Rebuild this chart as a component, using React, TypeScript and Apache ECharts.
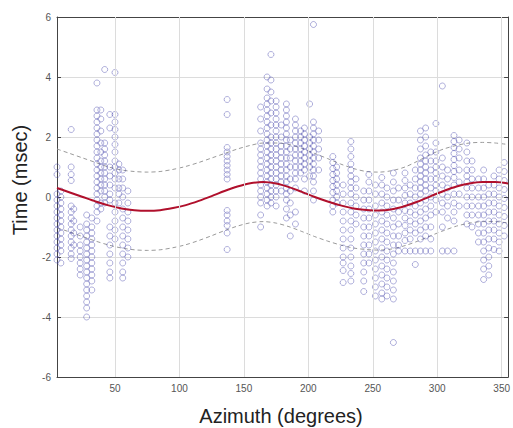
import React, { useEffect, useRef } from "react";
import * as echarts from "echarts";

// Tick labels
const xTicks = [50, 100, 150, 200, 250, 300, 350];
const yMin = -6;
const yMax = 6;

// Observations: [azimuth (deg), times (msec)] per azimuth column
const westColumns: [number, number[]][] = [
  [5, [1.0, 0.75, 0.1, -0.1, -0.3, -0.5, -0.7, -0.9, -1.1, -1.3, -1.5, -1.7, -1.9, -2.1]],
  [8, [0.2, 0.0, -0.2, -0.4, -0.6, -0.8, -1.0, -1.2, -1.4, -1.6, -1.8, -2.2]],
  [16, [2.25, 1.0, 0.75, 0.55, -0.3, -0.5, -0.7, -0.9, -1.1, -1.3, -1.5, -1.7, -1.9, -2.05]],
  [18, [-0.4, -0.8, -1.2, -1.6]],
  [23, [-1.0, -1.3, -1.6, -1.8, -2.0, -2.2, -2.4, -2.6]],
  [28, [-0.6, -0.9, -1.1, -1.3, -1.5, -1.7, -1.9, -2.1, -2.3, -2.5, -2.7, -2.9, -3.1, -3.3, -3.5, -3.7, -4.0]],
  [32, [-0.7, -1.0, -1.2, -1.4, -1.6, -1.8, -2.0, -2.2, -2.4, -2.6, -2.8, -3.1]],
  [36, [3.8, 2.9, 2.7, 2.5, 2.3, 2.1, 1.9, 1.7, 1.5, 1.3, 1.1, 0.9, 0.7, 0.5, 0.3, 0.1, -0.1, -0.3, -0.5, -0.8]],
  [39, [2.9, 2.6, 2.2, 1.8, 1.5, 1.2, 1.0, 0.8, 0.6, 0.4, 0.2, -0.2, -0.4]],
  [42, [4.25, 1.8, 1.6, 1.4, 1.2, 1.0, 0.8, 0.6, 0.4, 0.2, 0.0, -0.2]],
  [46, [2.75, 2.3, 1.0, 0.7, 0.4, 0.1, -0.1, -1.0, -1.3, -1.6, -1.9, -2.2, -2.5, -2.7]],
  [50, [4.15, 2.75, 2.5, 2.25, 2.0, 1.75, 1.5, 1.2, 1.0, 0.8, 0.6, 0.3, -0.2, -0.5, -0.8, -1.1, -1.4]],
  [53, [1.1, 0.9, 0.6, 0.3, 0.1, -0.2]],
  [56, [0.9, 0.6, 0.3, 0.0, -0.4, -0.7, -1.0, -1.3, -1.6, -1.9, -2.2, -2.5, -2.7]],
  [60, [0.2, -0.2, -0.5, -0.8, -1.1, -1.4, -1.7, -2.0]],
];

const midColumns: [number, number[]][] = [
  [137, [3.25, 2.75, 1.65, 1.5, 1.35, 1.2, 1.05, 0.9, 0.75, 0.6, -0.45, -0.6, -0.8, -0.95, -1.2, -1.75]],
  [163, [3.0, 2.6, 2.2, 1.8, 1.6, 1.4, 1.2, 1.0, 0.8, 0.6, 0.4, 0.2, 0.0, -0.2, -0.6, -1.0]],
  [168, [4.0, 3.6, 3.3, 3.1, 2.9, 2.7, 2.5, 2.3, 2.1, 1.9, 1.7, 1.5, 1.3, 1.1, 0.9, 0.7, 0.5, 0.3, 0.1, -0.1, -0.3]],
  [171, [4.75, 3.9, 3.5, 3.2, 2.8, 2.4, 2.0, 1.8, 1.6, 1.4, 1.2, 1.0, 0.8, 0.6, 0.4, 0.2, 0.0, -0.2]],
  [175, [3.2, 3.0, 2.8, 2.6, 2.4, 2.2, 2.0, 1.8, 1.6, 1.4, 1.2, 1.0, 0.8, 0.6, 0.4, 0.2, 0.0, -0.3]],
  [179, [2.4, 2.0, 1.7, 1.5, 1.3, 1.1, 0.9, 0.7, 0.5, 0.2]],
  [183, [3.1, 2.9, 2.7, 2.5, 2.3, 2.1, 1.9, 1.7, 1.5, 1.3, 1.1, 0.9, 0.7, 0.5, 0.3, 0.1, -0.1, -0.4, -0.7]],
  [186, [1.9, 1.6, 1.3, 1.0, 0.6, 0.2, -0.2, -0.6, -1.3]],
  [190, [2.6, 2.4, 2.2, 2.0, 1.8, 1.6, 1.4, 1.2, 1.0, 0.8, 0.6, 0.3, -0.5, -0.9]],
  [194, [2.2, 2.0, 1.8, 1.6, 1.4, 1.2, 1.0, 0.8]],
  [197, [2.3, 2.1, 1.9, 1.7, 1.5, 1.3, 1.1, 0.9, 0.6, 0.2]],
  [201, [3.1, 2.0, 1.8, 1.6, 1.4, 1.2, 1.0, 0.7]],
  [204, [5.75, 2.5, 2.3, 2.1, 1.9, 1.7, 1.5, 1.3, 1.1, 0.9, 0.7, 0.5, 0.2, -0.1]],
  [208, [2.2, 1.9, 1.6, 1.3, 0.9]],
  [219, [1.35, 1.15, 0.95, 0.75, 0.55, 0.35, 0.15, -0.1, -0.3, -0.5]],
  [222, [1.0, 0.8, 0.6, 0.4, 0.2, 0.0, -0.2]],
  [227, [0.4, 0.1, -0.2, -0.5, -0.8, -1.1, -1.4, -1.7, -2.0, -2.2, -2.45, -2.85]],
  [233, [1.85, 1.6, 1.35, 1.1, 0.9, 0.7, 0.5, 0.3, 0.1, -0.2, -0.5, -0.8, -1.1, -1.4, -1.7, -2.0, -2.3, -2.55, -2.8]],
  [237, [0.6, 0.3, 0.0, -0.3, -0.6, -0.9]],
];

const eastColumns: [number, number[]][] = [
  [243, [0.2, -0.1, -0.4, -0.7, -1.0, -1.3, -1.6, -1.9, -2.2, -2.5, -2.8, -3.15]],
  [247, [0.75, 0.5, 0.2, -0.1, -0.4, -0.7, -1.0, -1.3, -1.6, -1.9, -2.2]],
  [252, [0.4, 0.1, -0.3, -0.6, -0.9, -1.2, -1.5, -1.8, -2.1, -2.4, -2.7, -3.0, -3.3]],
  [257, [0.65, 0.4, 0.1, -0.2, -0.5, -0.8, -1.1, -1.4, -1.7, -2.0, -2.3, -2.6, -2.9, -3.2, -3.4]],
  [261, [0.3, 0.0, -0.3, -0.6, -0.9, -1.2, -1.5, -1.8, -2.1, -2.4, -2.7, -3.0, -3.3]],
  [266, [0.8, 0.5, 0.2, -0.1, -0.4, -0.7, -1.0, -1.3, -1.6, -1.9, -2.2, -2.5, -2.8, -3.1, -3.4, -4.85]],
  [270, [0.3, -0.1, -0.5, -0.9, -1.3, -1.6, -1.8]],
  [275, [0.8, 0.55, 0.3, 0.05, -0.2, -0.45, -0.7, -0.95, -1.2, -1.45, -1.8]],
  [279, [0.4, 0.1, -0.2, -0.5, -0.8, -1.1, -1.4, -1.8]],
  [283, [0.9, 0.6, 0.3, 0.0, -0.3, -0.6, -0.9, -1.2, -1.8, -2.25]],
  [287, [2.2, 1.9, 1.6, 1.3, 1.1, 0.9, 0.7, 0.5, 0.3, 0.1, -0.2, -0.5, -0.8, -1.1, -1.4, -1.8]],
  [291, [2.3, 2.0, 1.7, 1.4, 1.2, 1.0, 0.8, 0.6, 0.4, 0.2, -0.1, -0.4, -0.7, -1.0, -1.3, -1.8]],
  [295, [1.5, 1.2, 0.9, 0.6, 0.3, 0.0, -0.3, -0.6, -1.0, -1.4, -1.8]],
  [299, [2.45, 1.8, 1.5, 1.2, 1.0, 0.8, 0.6, 0.4, 0.2, -0.1, -0.5]],
  [304, [3.7, 1.3, 1.0, 0.7, 0.4, 0.1, -0.2, -0.5, -1.0, -1.8]],
  [308, [0.9, 0.6, 0.3, 0.0, -0.3, -0.7, -1.8]],
  [313, [2.05, 1.85, 1.65, 1.45, 1.25, 1.05, 0.85, 0.65, 0.4, 0.1, -0.2, -0.5, -0.8, -1.8]],
  [317, [1.9, 1.6, 1.3, 0.9, 0.5, 0.1, -0.3]],
  [323, [1.8, 1.5, 1.2, 0.9, 0.7, 0.5, 0.3, 0.0, -0.3, -0.6, -0.9]],
  [327, [1.2, 0.9, 0.6, 0.3, 0.0, -0.3, -0.6, -1.0]],
  [332, [0.6, 0.3, 0.0, -0.3, -0.6, -0.9, -1.2, -1.5]],
  [336, [0.9, 0.6, 0.3, 0.0, -0.3, -0.6, -0.9, -1.2, -1.5, -1.8, -2.1, -2.4, -2.75]],
  [340, [0.4, 0.1, -0.2, -0.5, -0.8, -1.1, -1.4, -1.7, -2.0, -2.3, -2.6]],
  [344, [0.7, 0.4, 0.1, -0.2, -0.5, -0.8, -1.1, -1.4, -1.75]],
  [348, [0.9, 0.6, 0.3, 0.0, -0.3, -0.6, -0.9, -1.2, -1.5, -1.8]],
  [352, [1.15, 0.85, 0.55, 0.25, -0.05, -0.35, -0.65, -0.95, -1.3]],
];

// Fitted curve and its confidence band
const fitAz = [5, 15, 25, 35, 45, 55, 65, 75, 85, 95, 105, 115, 125, 135, 145, 155, 165, 175, 185, 195, 205, 215, 225, 235, 245, 255, 265, 275, 285, 295, 305, 315, 325, 335, 345, 355];
const fitT = [0.3, 0.15, 0.0, -0.15, -0.28, -0.38, -0.44, -0.46, -0.44, -0.37, -0.27, -0.13, 0.03, 0.2, 0.35, 0.46, 0.5, 0.45, 0.33, 0.17, 0.0, -0.15, -0.28, -0.38, -0.43, -0.45, -0.41, -0.3, -0.15, 0.03, 0.2, 0.35, 0.45, 0.5, 0.5, 0.45];
const upperT = [1.6, 1.45, 1.3, 1.15, 1.0, 0.9, 0.85, 0.83, 0.85, 0.92, 1.02, 1.15, 1.3, 1.45, 1.6, 1.72, 1.8, 1.8, 1.75, 1.62, 1.45, 1.28, 1.1, 0.95, 0.85, 0.83, 0.88, 1.0, 1.2, 1.42, 1.6, 1.72, 1.8, 1.82, 1.8, 1.75];
const lowerT = [-1.02, -1.17, -1.32, -1.47, -1.6, -1.7, -1.76, -1.78, -1.76, -1.69, -1.59, -1.45, -1.29, -1.12, -0.97, -0.86, -0.82, -0.87, -0.99, -1.15, -1.32, -1.47, -1.6, -1.7, -1.75, -1.77, -1.73, -1.62, -1.47, -1.29, -1.12, -0.97, -0.87, -0.82, -0.82, -0.87];

const xTitle = "Azimuth (degrees)";
const yTitle = "Time (msec)";

export default function App() {
  const ref = useRef<HTMLDivElement>(null);
  useEffect(() => {
    if (!ref.current) return;
    const chart = echarts.init(ref.current, undefined, { renderer: "svg" });
    const points = [...westColumns, ...midColumns, ...eastColumns].flatMap(([az, ts]) =>
      ts.map((t) => [az, t])
    );
    const zip = (ys: number[]) => fitAz.map((a, i) => [a, ys[i]]);
    const axisColor = "#444";
    const gridColor = "#dcdcdc";
    const font = "'Liberation Sans', Arial, sans-serif";
    const xAxisBase = {
      type: "value" as const,
      min: 5,
      max: 355,
      axisLine: { show: true, onZero: false, lineStyle: { color: axisColor, width: 1 } },
      axisTick: { show: true, inside: true, length: 4, customValues: xTicks, lineStyle: { color: axisColor } },
      splitLine: { show: false },
    };
    const yAxisBase = {
      type: "value" as const,
      min: yMin,
      max: yMax,
      interval: 2,
      axisLine: { show: true, onZero: false, lineStyle: { color: axisColor, width: 1 } },
      axisTick: { show: true, inside: true, length: 4, lineStyle: { color: axisColor } },
    };
    chart.setOption({
      animation: false,
      backgroundColor: "#ffffff",
      grid: { left: 57, right: 3, top: 17, bottom: 51, containLabel: false },
      xAxis: [
        {
          ...xAxisBase,
          position: "bottom",
          axisLabel: { show: true, customValues: xTicks, fontSize: 10, color: "#555", margin: 6, fontFamily: font },
        },
        { ...xAxisBase, position: "top", axisLabel: { show: false } },
      ],
      yAxis: [
        {
          ...yAxisBase,
          position: "left",
          axisLabel: { show: true, fontSize: 10, color: "#555", margin: 6, fontFamily: font },
          splitLine: { show: true, lineStyle: { color: gridColor, width: 1 } },
        },
        { ...yAxisBase, position: "right", axisLabel: { show: false }, splitLine: { show: false } },
      ],
      series: [
        {
          type: "line",
          data: zip(upperT),
          xAxisIndex: 0,
          yAxisIndex: 0,
          smooth: 0.3,
          symbol: "none",
          lineStyle: { color: "#9a9a9a", width: 1, type: [4, 3] },
          z: 1,
          markLine: {
            silent: true,
            symbol: ["none", "none"],
            label: { show: false },
            lineStyle: { color: gridColor, width: 1, type: "solid" },
            data: xTicks.map((v) => ({ xAxis: v })),
          },
        },
        {
          type: "line",
          data: zip(lowerT),
          smooth: 0.3,
          symbol: "none",
          lineStyle: { color: "#9a9a9a", width: 1, type: [4, 3] },
          z: 1,
        },
        {
          type: "scatter",
          data: points,
          symbol: "circle",
          symbolSize: 6,
          itemStyle: { color: "rgba(0,0,0,0)", borderColor: "rgba(70,70,170,0.6)", borderWidth: 0.9 },
          z: 2,
        },
        {
          type: "line",
          data: zip(fitT),
          smooth: 0.3,
          symbol: "none",
          lineStyle: { color: "#b0102c", width: 2 },
          z: 3,
        },
      ],
      graphic: [
        {
          type: "text",
          x: 281,
          y: 416,
          style: { text: xTitle, font: `20px ${font}`, fill: "#222", align: "center", verticalAlign: "middle" },
        },
        {
          type: "text",
          x: 20,
          y: 180,
          rotation: Math.PI / 2,
          style: { text: yTitle, font: `20px ${font}`, fill: "#222", align: "center", verticalAlign: "middle" },
        },
      ],
    });
    return () => chart.dispose();
  }, []);
  return (
    <div
      ref={ref}
      style={{ position: "fixed", left: 0, top: 0, width: 513, height: 428, background: "#fff" }}
    />
  );
}
